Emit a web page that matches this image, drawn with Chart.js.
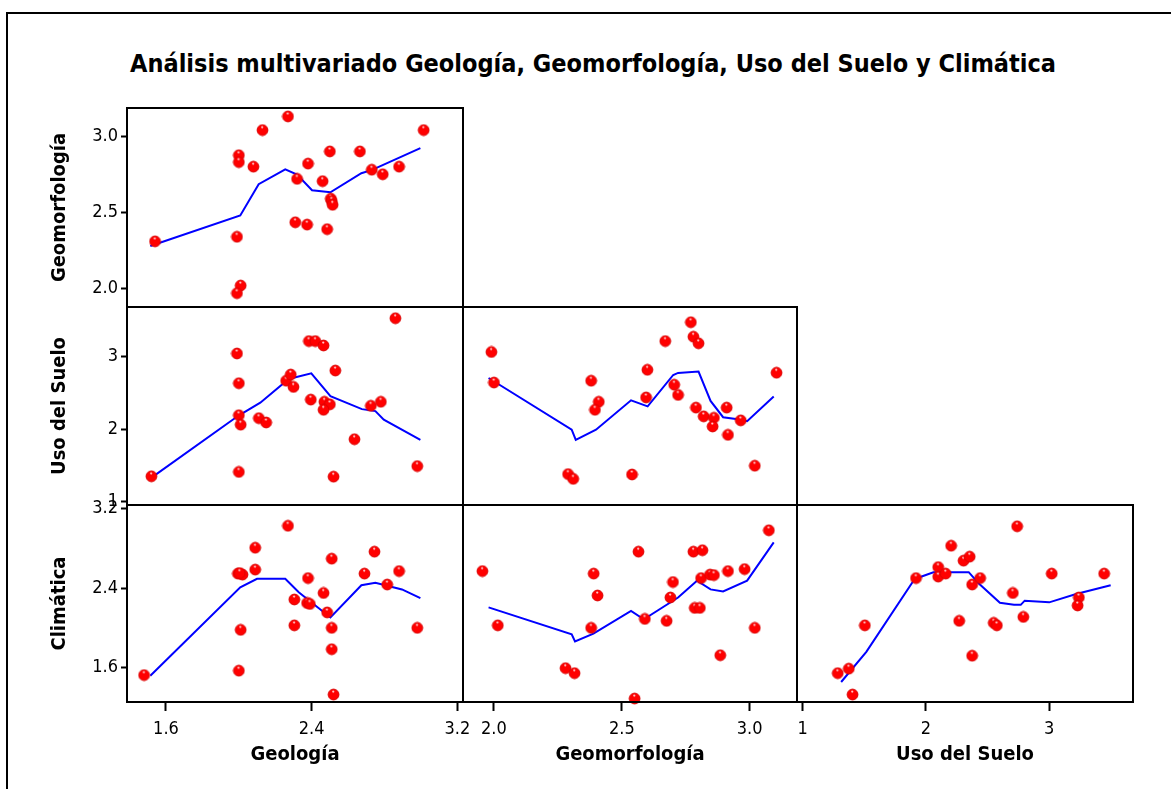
<!DOCTYPE html>
<html>
<head>
<meta charset="utf-8">
<script src="https://cdn.jsdelivr.net/npm/chart.js@4.4.0/dist/chart.umd.min.js"></script>
<style>
  html, body { margin: 0; padding: 0; background: #fff; }
  body { width: 1171px; height: 789px; position: relative; overflow: hidden;
         font-family: "DejaVu Sans Condensed", "DejaVu Sans", sans-serif; }
  #frame { position: absolute; left: 6px; top: 12px; width: 1400px; height: 1000px;
           border-left: 2px solid #000; border-top: 2px solid #000; }
  #title { position: absolute; left: 93px; width: 1000px; top: 49px; text-align: center;
           font-weight: bold; font-size: 25px; line-height: 30px; color: #000; }
  canvas { position: absolute; }
</style>
</head>
<body>
<div id="frame"></div>
<div id="title">Análisis multivariado Geología, Geomorfología, Uso del Suelo y Climática</div>
<script>
// --- Axis ranges & tick labels ---
const geologiaRange = [1.386, 3.231];
const geomorfRange = [1.879, 3.185];
const usoRange = [0.955, 3.679];
const climaRange = [1.255, 3.234];

const geologiaTicks = ["1.6", "2.4", "3.2"];
const geomorfTicks = ["2.0", "2.5", "3.0"];
const usoTicks = ["1", "2", "3"];
const climaTicks = ["1.6", "2.4", "3.2"];

// --- Scatter data, one list per panel: [x, y] ---
const geologiaGeomorf = [
  [1.54, 2.31], [2.00, 2.875], [2.00, 2.83], [2.08, 2.80], [2.13, 3.04], [2.27, 3.13],
  [1.99, 2.34], [2.01, 2.02], [1.99, 1.97], [2.32, 2.72], [2.38, 2.82], [2.31, 2.435],
  [2.375, 2.42], [2.46, 2.705], [2.50, 2.90], [2.505, 2.59], [2.51, 2.575], [2.515, 2.55],
  [2.485, 2.39], [2.665, 2.90], [2.73, 2.78], [2.79, 2.75], [2.88, 2.80], [3.015, 3.04]
];
const geologiaUso = [
  [1.52, 1.35], [1.99, 3.04], [2.00, 2.63], [2.00, 2.19], [2.01, 2.06], [2.00, 1.41],
  [2.11, 2.15], [2.15, 2.09], [2.26, 2.665], [2.285, 2.75], [2.30, 2.58], [2.385, 3.21],
  [2.42, 3.21], [2.465, 3.15], [2.53, 2.805], [2.395, 2.405], [2.47, 2.375], [2.50, 2.34],
  [2.465, 2.265], [2.52, 1.345], [2.635, 1.86], [2.725, 2.32], [2.78, 2.375], [2.86, 3.525],
  [2.98, 1.49]
];
const geomorfUso = [
  [1.99, 3.06], [2.00, 2.64], [2.38, 2.665], [2.41, 2.375], [2.395, 2.265], [2.29, 1.38],
  [2.31, 1.315], [2.54, 1.375], [2.60, 2.815], [2.595, 2.435], [2.67, 3.21], [2.705, 2.61],
  [2.72, 2.47], [2.77, 3.47], [2.78, 3.27], [2.80, 3.18], [2.79, 2.295], [2.82, 2.175],
  [2.86, 2.155], [2.855, 2.035], [2.91, 2.295], [2.915, 1.92], [2.965, 2.12], [3.02, 1.495],
  [3.105, 2.775]
];
const geologiaClima = [
  [1.48, 1.525], [1.995, 2.545], [2.02, 2.535], [2.005, 2.55], [2.01, 1.98], [2.00, 1.57],
  [2.09, 2.805], [2.09, 2.585], [2.27, 3.025], [2.305, 2.285], [2.305, 2.025], [2.38, 2.50],
  [2.375, 2.25], [2.39, 2.24], [2.465, 2.35], [2.485, 2.155], [2.51, 2.695], [2.51, 2.00],
  [2.51, 1.785], [2.52, 1.33], [2.69, 2.545], [2.745, 2.765], [2.815, 2.435], [2.88, 2.57],
  [2.98, 2.00]
];
const geomorfClima = [
  [1.955, 2.57], [2.015, 2.025], [2.28, 1.595], [2.315, 1.545], [2.39, 2.545], [2.405, 2.325],
  [2.38, 2.00], [2.55, 1.29], [2.565, 2.765], [2.59, 2.09], [2.675, 2.07], [2.69, 2.305],
  [2.70, 2.46], [2.78, 2.765], [2.815, 2.78], [2.785, 2.20], [2.805, 2.20], [2.81, 2.50],
  [2.845, 2.535], [2.86, 2.53], [2.885, 1.725], [2.915, 2.57], [2.98, 2.59], [3.02, 2.00],
  [3.075, 2.98]
];
const usoClima = [
  [1.285, 1.545], [1.375, 1.59], [1.405, 1.33], [1.505, 2.025], [1.92, 2.50], [2.10, 2.61],
  [2.10, 2.515], [2.16, 2.545], [2.205, 2.825], [2.305, 2.675], [2.355, 2.715], [2.375, 2.435],
  [2.44, 2.50], [2.27, 2.07], [2.375, 1.72], [2.55, 2.05], [2.575, 2.025], [2.705, 2.35],
  [2.74, 3.02], [2.79, 2.11], [3.02, 2.545], [3.24, 2.305], [3.23, 2.225], [3.445, 2.545]
];

// --- Smoother (lowess) curves per panel ---
const geologiaGeomorfFit = [
  [1.514, 2.279], [2.008, 2.48], [2.109, 2.685], [2.255, 2.783], [2.32, 2.748],
  [2.402, 2.645], [2.503, 2.632], [2.673, 2.757], [2.732, 2.779], [2.997, 2.922]
];
const geologiaUsoFit = [
  [1.538, 1.363], [1.999, 2.186], [2.118, 2.363], [2.274, 2.688], [2.398, 2.767],
  [2.503, 2.451], [2.676, 2.274], [2.75, 2.247], [2.796, 2.13], [2.997, 1.851]
];
const geomorfUsoFit = [
  [1.979, 2.702], [2.304, 1.991], [2.32, 1.851], [2.399, 1.991], [2.536, 2.395],
  [2.601, 2.312], [2.701, 2.744], [2.72, 2.772], [2.80, 2.791], [2.847, 2.386],
  [2.896, 2.163], [2.961, 2.13], [2.99, 2.107], [3.094, 2.447]
];
const geologiaClimaFit = [
  [1.514, 1.519], [2.008, 2.407], [2.10, 2.492], [2.255, 2.492], [2.329, 2.358],
  [2.503, 2.104], [2.673, 2.428], [2.75, 2.453], [2.896, 2.386], [2.997, 2.298]
];
const geomorfClimaFit = [
  [1.979, 2.206], [2.304, 1.935], [2.317, 1.864], [2.389, 1.942], [2.536, 2.171],
  [2.571, 2.111], [2.597, 2.104], [2.72, 2.305], [2.794, 2.474], [2.847, 2.386],
  [2.896, 2.365], [2.99, 2.474], [3.094, 2.858]
];
const usoClimaFit = [
  [1.313, 1.456], [1.517, 1.759], [1.898, 2.47], [1.966, 2.516], [2.061, 2.559],
  [2.347, 2.559], [2.429, 2.446], [2.60, 2.252], [2.714, 2.231], [2.769, 2.231],
  [2.801, 2.273], [3.0, 2.256], [3.218, 2.34], [3.498, 2.428]
];

// --- Variables ---
const geologia = { name: "Geología", range: geologiaRange, ticks: geologiaTicks };
const geomorf = { name: "Geomorfología", range: geomorfRange, ticks: geomorfTicks };
const uso = { name: "Uso del Suelo", range: usoRange, ticks: usoTicks };
const clima = { name: "Climática", range: climaRange, ticks: climaTicks };

// --- Page layout of the panel grid ---
const colEdges = [127, 463, 797, 1133];
const rowEdges = [108, 307, 505, 702];
const PAGE_H = 789;
const FONT = '"DejaVu Sans Condensed", "DejaVu Sans", sans-serif';

// red dot with a little shine
function makeDot() {
  const c = document.createElement("canvas");
  c.width = 13; c.height = 13;
  const g = c.getContext("2d");
  g.beginPath();
  g.arc(6.5, 6.5, 5.4, 0, Math.PI * 2);
  g.fillStyle = "#ff0000";
  g.fill();
  g.lineWidth = 1;
  g.strokeStyle = "#d80000";
  g.stroke();
  g.beginPath();
  g.arc(6.2, 3.6, 1.1, 0, Math.PI * 2);
  g.fillStyle = "rgba(255,255,255,0.8)";
  g.fill();
  return c;
}
const dot = makeDot();

// box around each panel
const panelBox = {
  id: "panelBox",
  afterDraw(chart) {
    const { ctx, chartArea: a } = chart;
    ctx.save();
    ctx.strokeStyle = "#000";
    ctx.lineWidth = 2;
    ctx.strokeRect(a.left, a.top, a.right - a.left, a.bottom - a.top);
    ctx.restore();
  }
};

function axisConfig(v, show, isX, size) {
  return {
    type: "linear",
    display: show,
    min: v.range[0],
    max: v.range[1],
    afterBuildTicks: s => { s.ticks = v.ticks.map(t => ({ value: parseFloat(t) })); },
    afterFit: s => {
      if (!show) return;
      if (isX) s.height = size; else s.width = size;
    },
    grid: {
      drawOnChartArea: false,
      drawTicks: true,
      tickLength: isX ? 9 : 6,
      tickColor: "#000",
      tickWidth: 2,
      color: "#000"
    },
    border: { display: false },
    ticks: {
      color: "#000",
      font: { family: FONT, size: 18 },
      padding: isX ? 8 : 3,
      maxRotation: 0,
      autoSkip: false,
      callback: (val, i) => v.ticks[i]
    },
    title: {
      display: show,
      text: v.name,
      color: "#000",
      font: { family: FONT, size: 20, weight: "bold" },
      padding: isX ? { bottom: 22, top: 0 } : { top: 48, bottom: 0 }
    }
  };
}

function makePanel(row, col, xVar, yVar, points, curve) {
  const showY = col === 0;
  const showX = row === 2;
  const padT = 15, padR = 20, padB = 15;
  const padL = showY ? 0 : 20;
  const x0 = colEdges[col], x1 = colEdges[col + 1];
  const y0 = rowEdges[row], y1 = rowEdges[row + 1];

  const left = showY ? 0 : x0 - padL;
  const top = y0 - padT;
  const width = x1 + padR - left;
  const height = showX ? PAGE_H - top : y1 + padB - top;

  const canvas = document.createElement("canvas");
  canvas.width = width;
  canvas.height = height;
  canvas.style.left = left + "px";
  canvas.style.top = top + "px";
  document.body.appendChild(canvas);

  return new Chart(canvas.getContext("2d"), {
    type: "scatter",
    data: {
      datasets: [
        {
          data: points.map(p => ({ x: p[0], y: p[1] })),
          pointStyle: dot,
          pointRadius: 5.5,
          clip: false
        },
        {
          data: curve.map(p => ({ x: p[0], y: p[1] })),
          showLine: true,
          borderColor: "#0000ff",
          borderWidth: 2,
          pointRadius: 0,
          tension: 0,
          fill: false
        }
      ]
    },
    options: {
      responsive: false,
      animation: false,
      devicePixelRatio: 1,
      layout: { autoPadding: false, padding: { top: padT, right: padR, bottom: showX ? 0 : padB, left: padL } },
      plugins: { legend: { display: false }, tooltip: { enabled: false } },
      scales: {
        x: axisConfig(xVar, showX, true, PAGE_H - y1),
        y: axisConfig(yVar, showY, false, x0)
      }
    },
    plugins: [panelBox]
  });
}

// --- Lower triangle of the matrix ---
makePanel(0, 0, geologia, geomorf, geologiaGeomorf, geologiaGeomorfFit);
makePanel(1, 0, geologia, uso, geologiaUso, geologiaUsoFit);
makePanel(1, 1, geomorf, uso, geomorfUso, geomorfUsoFit);
makePanel(2, 0, geologia, clima, geologiaClima, geologiaClimaFit);
makePanel(2, 1, geomorf, clima, geomorfClima, geomorfClimaFit);
makePanel(2, 2, uso, clima, usoClima, usoClimaFit);
</script>
</body>
</html>
